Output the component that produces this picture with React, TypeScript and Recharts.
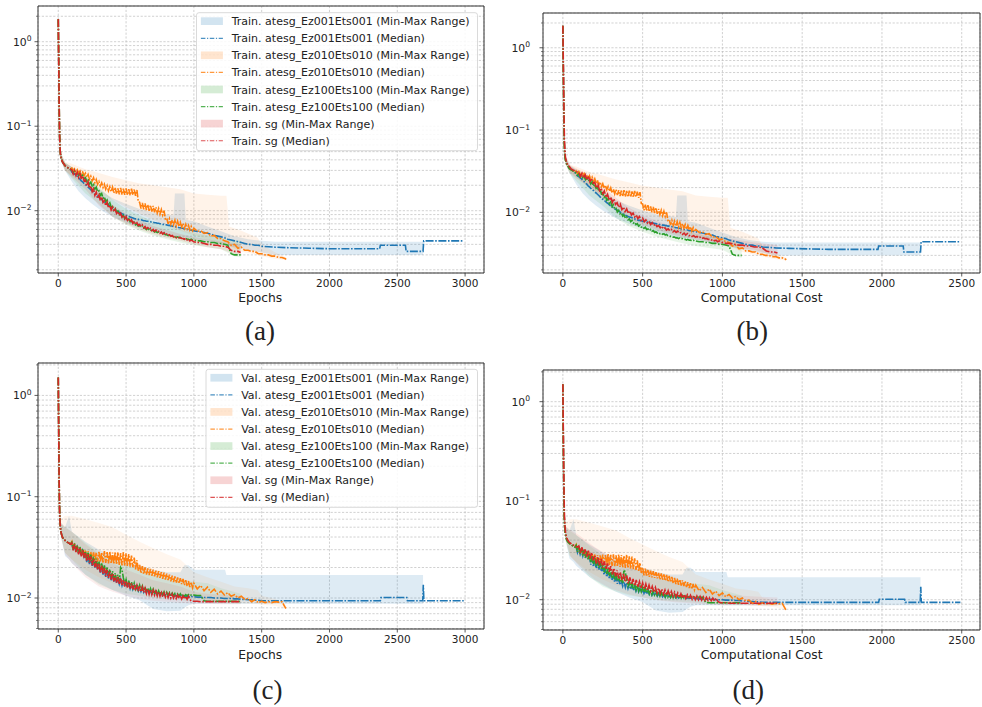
import React from 'react';
import { ComposedChart, Line, Area, XAxis, YAxis, CartesianGrid, ReferenceArea } from 'recharts';

const FONT = '"DejaVu Sans", sans-serif';
const BLUE = '#1f77b4';
const ORANGE = '#ff7f0e';
const GREEN = '#2ca02c';
const RED = '#d62728';

// cost per epoch (computational cost axis)
const ATESG_COST_PER_EPOCH = 0.8333;
const SG_COST_PER_EPOCH = 1.0;

const EARLY_EPOCHS = [0, 2, 4, 6, 8, 10, 13, 16, 20, 25, 30, 40, 50, 60, 75, 90];
const MAIN_EPOCHS = [
  100, 110, 120, 130, 140, 150, 160, 170, 180, 190,
  200, 210, 220, 230, 240, 250, 260, 270, 280, 290,
  300, 310, 320, 330, 340, 350, 360, 370, 380, 390,
  400, 410, 420, 430, 440, 450, 460, 470, 480, 490,
  500, 510, 520, 530, 540, 550, 560, 570, 580, 590,
  600, 610, 620, 630, 640, 650, 660, 670, 680, 690,
  700, 710, 720, 730, 740, 750, 760, 770, 780, 790,
  800, 810, 820, 830, 840, 850, 860, 870, 880, 890,
  900, 910, 920, 930, 940, 950, 960, 970, 980, 990,
  1000, 1025, 1050, 1075, 1100, 1125, 1150, 1175, 1200, 1225, 1250, 1275, 1300, 1325,
  1350, 1375, 1400, 1425, 1450, 1475, 1500, 1525, 1550, 1575, 1600, 1625, 1650, 1675,
];

const TRAIN_EARLY = [1.85, 0.9, 0.45, 0.22, 0.12, 0.075, 0.055, 0.047, 0.043, 0.04, 0.038, 0.036, 0.034, 0.033, 0.032, 0.031];
const VAL_EARLY = [1.5, 0.7, 0.33, 0.17, 0.1, 0.07, 0.056, 0.049, 0.045, 0.042, 0.04, 0.038, 0.037, 0.036, 0.035, 0.034];

// ---------- Training medians ----------
const trainBlueMain = [
  0.0288, 0.0278, 0.0272, 0.0262, 0.0256, 0.0242, 0.0236, 0.0226, 0.022, 0.021,
  0.0204, 0.0196, 0.019, 0.0184, 0.0176, 0.0172, 0.0166, 0.016, 0.0154, 0.0148,
  0.0144, 0.014, 0.0136, 0.0131, 0.0128, 0.0123, 0.012, 0.0117, 0.0114, 0.011,
  0.0108, 0.0106, 0.0103, 0.0101, 0.0098, 0.0096, 0.0094, 0.0092, 0.0091, 0.0089,
  0.0088, 0.0087, 0.0086, 0.0084, 0.0083, 0.0082, 0.0081, 0.008, 0.008, 0.0079,
  0.0078, 0.0078, 0.0077, 0.0076, 0.0076, 0.0075, 0.0075, 0.0074, 0.0074, 0.0073,
  0.0073, 0.0072, 0.0072, 0.0071, 0.0071, 0.007, 0.007, 0.0069, 0.0069, 0.0068,
  0.0068, 0.0067, 0.0067, 0.0066, 0.0066, 0.0065, 0.0065, 0.0064, 0.0064, 0.0063,
  0.0063, 0.0062, 0.0062, 0.0061, 0.0061, 0.006, 0.006, 0.0059, 0.0059, 0.0058,
  0.0058, 0.0057, 0.0056, 0.0055, 0.0054, 0.0053, 0.0051, 0.005, 0.0049, 0.0048, 0.0046, 0.0045, 0.0044, 0.0043,
  0.0042, 0.0041, 0.004, 0.004, 0.0039, 0.0039, 0.0038,
];
const trainBlueTailEpochs = [1600, 1700, 1850, 2000, 2200, 2370, 2375, 2560, 2565, 2690, 2695, 2990];
const trainBlueTailValues = [0.0037, 0.00365, 0.0036, 0.00355, 0.00355, 0.00355, 0.0039, 0.0039, 0.0033, 0.0033, 0.0044, 0.0044];

const trainOrangeMain = [
  0.032, 0.0296, 0.0312, 0.0288, 0.0305, 0.028, 0.0296, 0.0268, 0.0286, 0.026,
  0.0278, 0.0248, 0.0268, 0.0236, 0.0256, 0.0226, 0.0246, 0.0214, 0.0234, 0.0205,
  0.0222, 0.0196, 0.0214, 0.0188, 0.0206, 0.018, 0.0198, 0.0172, 0.0192, 0.0168,
  0.019, 0.0162, 0.0186, 0.0158, 0.0184, 0.0156, 0.0186, 0.0155, 0.0182, 0.0154,
  0.0184, 0.0153, 0.018, 0.0152, 0.0182, 0.0154, 0.0178, 0.015, 0.0176, 0.0128,
  0.0126, 0.0106, 0.0124, 0.0104, 0.0122, 0.0102, 0.0118, 0.01, 0.0116, 0.0098,
  0.0114, 0.0096, 0.011, 0.0094, 0.0106, 0.0091, 0.0103, 0.0089, 0.01, 0.008,
  0.0082, 0.007, 0.008, 0.0069, 0.0078, 0.0068, 0.0077, 0.0066, 0.0075, 0.0065,
  0.0073, 0.0064, 0.0071, 0.0062, 0.0069, 0.0061, 0.0067, 0.0059, 0.0065, 0.0058,
  0.0062, 0.0057, 0.0058, 0.0054, 0.0055, 0.005, 0.0051, 0.0047, 0.0047, 0.0044, 0.0043, 0.0039, 0.004, 0.0036,
  0.0037, 0.0034, 0.0034, 0.0033, 0.0033, 0.0031, 0.0031, 0.003, 0.003, 0.0029, 0.0029, 0.0028, 0.0028, 0.0027,
];
const trainOrangeTailEpochs = [1680];
const trainOrangeTailValues = [0.00265];

const trainGreenMain = [
  0.03, 0.0282, 0.0294, 0.027, 0.0281, 0.0262, 0.0274, 0.025, 0.0262, 0.024,
  0.0246, 0.0222, 0.0236, 0.0208, 0.0218, 0.0196, 0.0204, 0.018, 0.019, 0.0168,
  0.0172, 0.0152, 0.016, 0.014, 0.0146, 0.0128, 0.0134, 0.0118, 0.0124, 0.011,
  0.0112, 0.0101, 0.0106, 0.0096, 0.0099, 0.009, 0.0093, 0.0085, 0.0088, 0.0081,
  0.0083, 0.0077, 0.008, 0.0074, 0.0076, 0.0071, 0.0073, 0.0068, 0.007, 0.0066,
  0.0067, 0.0064, 0.0066, 0.0062, 0.0063, 0.006, 0.0062, 0.0059, 0.006, 0.0057,
  0.0058, 0.0056, 0.0057, 0.0055, 0.0056, 0.0054, 0.0055, 0.0053, 0.0054, 0.0052,
  0.0052, 0.0051, 0.0051, 0.005, 0.005, 0.0049, 0.0049, 0.0048, 0.0049, 0.0048,
  0.0048, 0.0047, 0.0047, 0.0046, 0.0047, 0.0046, 0.0046, 0.0045, 0.0046, 0.0045,
  0.0045, 0.0044, 0.0044, 0.0043, 0.0043, 0.0042, 0.0042, 0.0041, 0.0041, 0.004, 0.0039, 0.0031, 0.003, 0.003,
];
const trainGreenTailEpochs = [1345];
const trainGreenTailValues = [0.003];

const trainRedMain = [
  0.0305, 0.0272, 0.0298, 0.0262, 0.0285, 0.0248, 0.0276, 0.0236, 0.0258, 0.0226,
  0.0232, 0.0198, 0.0218, 0.0184, 0.0196, 0.0168, 0.0182, 0.0152, 0.0166, 0.014,
  0.0153, 0.0132, 0.0146, 0.0125, 0.0131, 0.0115, 0.0126, 0.0108, 0.0116, 0.0102,
  0.011, 0.0097, 0.0104, 0.0093, 0.0098, 0.0088, 0.0093, 0.0084, 0.0089, 0.008,
  0.0085, 0.0077, 0.0081, 0.0074, 0.0078, 0.0071, 0.0075, 0.0069, 0.0072, 0.0067,
  0.0069, 0.0065, 0.0068, 0.0063, 0.0065, 0.0061, 0.0063, 0.006, 0.0062, 0.0058,
  0.006, 0.0057, 0.0059, 0.0056, 0.0057, 0.0054, 0.0056, 0.0053, 0.0055, 0.0052,
  0.0053, 0.0051, 0.0052, 0.005, 0.0051, 0.0049, 0.005, 0.0048, 0.0049, 0.0048,
  0.0048, 0.0047, 0.0047, 0.0046, 0.0047, 0.0045, 0.0046, 0.0044, 0.0045, 0.0044,
  0.0043, 0.0042, 0.0042, 0.0041, 0.004, 0.004, 0.0039, 0.0039, 0.0038, 0.0038, 0.0037, 0.0034, 0.0033, 0.0033,
];
const trainRedTailEpochs = [1345];
const trainRedTailValues = [0.0032];

// ---------- Training min-max ranges ----------
const trainBlueRangeEpochs = [0, 10, 20, 50, 100, 150, 200, 250, 300, 400, 500, 600, 700, 800, 850, 860, 930, 940, 1000, 1100, 1200, 1300, 1400, 1500, 1600, 2000, 2400, 2690];
const trainBlueLo = [1.75, 0.065, 0.039, 0.03, 0.022, 0.017, 0.014, 0.012, 0.0105, 0.0085, 0.0072, 0.0063, 0.0057, 0.0052, 0.005, 0.005, 0.0048, 0.0048, 0.0046, 0.0043, 0.004, 0.0037, 0.0034, 0.0032, 0.003, 0.003, 0.003, 0.003];
const trainBlueHi = [1.95, 0.09, 0.048, 0.037, 0.033, 0.029, 0.025, 0.021, 0.018, 0.014, 0.012, 0.0105, 0.0095, 0.009, 0.0088, 0.016, 0.016, 0.0078, 0.0075, 0.0065, 0.0057, 0.005, 0.0046, 0.0044, 0.0043, 0.0043, 0.0043, 0.0043];

const trainOrangeRangeEpochs = [0, 10, 20, 50, 100, 200, 300, 400, 500, 600, 700, 800, 900, 1000, 1100, 1200, 1240, 1260, 1350, 1470, 1500, 1600, 1680];
const trainOrangeLo = [1.75, 0.065, 0.039, 0.03, 0.026, 0.02, 0.016, 0.0135, 0.011, 0.0092, 0.0078, 0.0066, 0.0058, 0.0051, 0.0046, 0.0041, 0.0039, 0.0038, 0.0033, 0.003, 0.0029, 0.0027, 0.0026];
const trainOrangeHi = [1.95, 0.09, 0.048, 0.038, 0.036, 0.031, 0.028, 0.025, 0.023, 0.021, 0.02, 0.019, 0.018, 0.016, 0.0155, 0.015, 0.015, 0.0065, 0.0058, 0.0048, 0.004, 0.0032, 0.0028];

const trainGreenRangeEpochs = [0, 10, 20, 50, 100, 200, 300, 400, 500, 600, 700, 800, 900, 1000, 1100, 1200, 1300, 1345];
const trainGreenLo = [1.75, 0.065, 0.039, 0.03, 0.024, 0.016, 0.012, 0.0085, 0.0068, 0.0058, 0.0051, 0.0046, 0.0042, 0.0039, 0.0037, 0.0035, 0.0029, 0.0028];
const trainGreenHi = [1.95, 0.09, 0.048, 0.037, 0.033, 0.027, 0.019, 0.0135, 0.0105, 0.0088, 0.0075, 0.0066, 0.006, 0.0055, 0.0051, 0.0048, 0.0045, 0.0044];

const trainRedRangeEpochs = [0, 10, 20, 50, 100, 200, 300, 400, 500, 600, 700, 800, 900, 1000, 1100, 1200, 1300, 1345];
const trainRedLo = [1.75, 0.065, 0.039, 0.03, 0.025, 0.018, 0.0115, 0.0085, 0.007, 0.006, 0.0053, 0.0048, 0.0044, 0.004, 0.0037, 0.0035, 0.0031, 0.003];
const trainRedHi = [1.95, 0.09, 0.048, 0.037, 0.033, 0.026, 0.017, 0.0118, 0.0092, 0.0077, 0.0066, 0.0059, 0.0053, 0.0049, 0.0046, 0.0043, 0.0041, 0.004];

// ---------- Validation medians ----------
const valBlueMain = [
  0.034, 0.03, 0.033, 0.0288, 0.0318, 0.0276, 0.0306, 0.0264, 0.0292, 0.0254,
  0.0272, 0.0226, 0.026, 0.0216, 0.0248, 0.0208, 0.0236, 0.02, 0.0226, 0.0192,
  0.0212, 0.0178, 0.0202, 0.017, 0.0192, 0.0162, 0.0184, 0.0156, 0.0176, 0.015,
  0.0168, 0.0145, 0.0162, 0.0141, 0.0157, 0.0137, 0.0152, 0.0133, 0.0148, 0.013,
  0.0144, 0.0127, 0.014, 0.0124, 0.0136, 0.0122, 0.0133, 0.012, 0.013, 0.0118,
  0.0128, 0.0116, 0.0125, 0.0114, 0.0123, 0.0113, 0.0121, 0.0111, 0.0119, 0.011,
  0.0117, 0.0109, 0.0116, 0.0108, 0.0114, 0.0107, 0.0113, 0.0106, 0.0112, 0.0106,
  0.0111, 0.0105, 0.011, 0.0105, 0.0109, 0.0104, 0.0108, 0.0104, 0.0107, 0.0104,
  0.0106, 0.0104, 0.0106, 0.0103, 0.0105, 0.0103, 0.0104, 0.0103, 0.0104, 0.0103,
  0.0103, 0.0102, 0.0102, 0.0101, 0.0101, 0.0101, 0.01, 0.01, 0.01, 0.0099, 0.0099, 0.0099, 0.0098, 0.0098,
  0.0097, 0.0097, 0.0096, 0.0096, 0.0095, 0.0095, 0.0094,
];
const valBlueTailEpochs = [1600, 2000, 2375, 2380, 2570, 2575, 2688, 2692, 2696, 2990];
const valBlueTailValues = [0.0094, 0.0094, 0.0094, 0.0101, 0.0101, 0.0094, 0.0094, 0.0135, 0.0094, 0.0094];

const valOrangeMain = [
  0.036, 0.0305, 0.0345, 0.029, 0.033, 0.028, 0.0318, 0.027, 0.0305, 0.0262,
  0.0298, 0.025, 0.029, 0.0242, 0.0286, 0.0236, 0.0282, 0.0232, 0.028, 0.0228,
  0.0285, 0.0226, 0.0282, 0.0224, 0.029, 0.0222, 0.0284, 0.022, 0.0288, 0.0218,
  0.028, 0.0216, 0.0286, 0.0214, 0.0282, 0.0212, 0.0278, 0.021, 0.0284, 0.0208,
  0.0276, 0.0206, 0.0272, 0.0204, 0.0262, 0.02, 0.025, 0.0192, 0.0236, 0.0186,
  0.0212, 0.0176, 0.0206, 0.0172, 0.02, 0.017, 0.0196, 0.0168, 0.0194, 0.0166,
  0.019, 0.0164, 0.0186, 0.016, 0.0184, 0.0158, 0.018, 0.0155, 0.0178, 0.0152,
  0.0174, 0.015, 0.017, 0.0146, 0.0166, 0.0144, 0.0163, 0.0141, 0.016, 0.0139,
  0.0157, 0.0137, 0.0154, 0.0134, 0.015, 0.0131, 0.0147, 0.0128, 0.0144, 0.0126,
  0.014, 0.0123, 0.0133, 0.0118, 0.0128, 0.0114, 0.0122, 0.011, 0.0117, 0.0107, 0.0113, 0.0104, 0.0108, 0.01,
  0.0104, 0.0097, 0.0099, 0.0092, 0.0096, 0.009, 0.0093, 0.009, 0.0092, 0.009, 0.0092, 0.0091, 0.0092, 0.008,
];
const valOrangeTailEpochs = [1680];
const valOrangeTailValues = [0.0079];

const valGreenMain = [
  0.0355, 0.0302, 0.0345, 0.029, 0.0332, 0.0278, 0.032, 0.0266, 0.0306, 0.0256,
  0.029, 0.024, 0.028, 0.023, 0.0268, 0.022, 0.0256, 0.021, 0.0244, 0.02,
  0.023, 0.019, 0.022, 0.0182, 0.021, 0.0174, 0.02, 0.0166, 0.0192, 0.016,
  0.0184, 0.0154, 0.0176, 0.015, 0.017, 0.0146, 0.02, 0.019, 0.0158, 0.0138,
  0.0152, 0.0132, 0.0148, 0.0128, 0.0144, 0.0126, 0.014, 0.0123, 0.0137, 0.0121,
  0.0134, 0.0119, 0.0131, 0.0117, 0.0128, 0.0115, 0.0126, 0.0113, 0.0124, 0.0112,
  0.0122, 0.0111, 0.012, 0.0109, 0.0118, 0.0108, 0.0116, 0.0107, 0.0115, 0.0106,
  0.0114, 0.0106, 0.0113, 0.0105, 0.0112, 0.0105, 0.0111, 0.0104, 0.011, 0.0104,
  0.011, 0.0104, 0.0109, 0.0104, 0.0108, 0.0105, 0.0108, 0.0105, 0.0107, 0.0106,
  0.0107, 0.0106, 0.0106, 0.0094, 0.0093, 0.0093, 0.0093, 0.0093, 0.0093, 0.0093, 0.0093, 0.0093, 0.0093, 0.0093,
];
const valGreenTailEpochs = [1345];
const valGreenTailValues = [0.0092];

const valRedMain = [
  0.035, 0.0296, 0.0338, 0.0284, 0.0322, 0.027, 0.0312, 0.0258, 0.03, 0.025,
  0.0282, 0.0232, 0.027, 0.0222, 0.0258, 0.021, 0.0244, 0.0202, 0.0232, 0.0192,
  0.0218, 0.018, 0.0208, 0.0172, 0.0198, 0.0164, 0.019, 0.0158, 0.0182, 0.0152,
  0.0176, 0.0146, 0.0168, 0.0142, 0.0162, 0.0138, 0.0158, 0.0134, 0.0152, 0.013,
  0.0148, 0.0127, 0.0144, 0.0124, 0.014, 0.0122, 0.0136, 0.0119, 0.0133, 0.0117,
  0.0131, 0.0115, 0.0128, 0.0113, 0.0125, 0.0111, 0.0123, 0.0109, 0.0121, 0.0108,
  0.0119, 0.0107, 0.0117, 0.0105, 0.0115, 0.0104, 0.0113, 0.0103, 0.0112, 0.0102,
  0.0111, 0.0101, 0.011, 0.01, 0.0109, 0.01, 0.0108, 0.0099, 0.0107, 0.0099,
  0.0106, 0.0098, 0.0105, 0.0098, 0.0104, 0.0097, 0.0104, 0.0097, 0.0094, 0.0093,
  0.0093, 0.0093, 0.0092, 0.0092, 0.0092, 0.0092, 0.0092, 0.0092, 0.0092, 0.0092, 0.0092, 0.0092, 0.0092, 0.0092,
];
const valRedTailEpochs = [1345];
const valRedTailValues = [0.0092];

// ---------- Validation min-max ranges ----------
const valBlueRangeEpochs = [0, 10, 20, 50, 80, 100, 200, 300, 400, 500, 600, 700, 800, 900, 930, 960, 1000, 1230, 1240, 2690];
const valBlueLo = [1.4, 0.06, 0.04, 0.026, 0.024, 0.022, 0.017, 0.014, 0.012, 0.0105, 0.0095, 0.0078, 0.0074, 0.0075, 0.008, 0.0085, 0.0088, 0.0088, 0.0088, 0.0088];
const valBlueHi = [1.6, 0.085, 0.055, 0.05, 0.065, 0.045, 0.036, 0.03, 0.026, 0.023, 0.021, 0.019, 0.018, 0.018, 0.021, 0.021, 0.019, 0.019, 0.0169, 0.0169];

const valOrangeRangeEpochs = [0, 10, 20, 50, 100, 200, 300, 400, 500, 600, 700, 800, 900, 1000, 1100, 1200, 1300, 1400, 1470, 1500, 1600, 1680];
const valOrangeLo = [1.4, 0.06, 0.04, 0.028, 0.024, 0.019, 0.016, 0.014, 0.013, 0.0122, 0.0115, 0.011, 0.0105, 0.01, 0.0095, 0.0092, 0.009, 0.0088, 0.0087, 0.0086, 0.0084, 0.0078];
const valOrangeHi = [1.6, 0.085, 0.06, 0.065, 0.065, 0.06, 0.055, 0.05, 0.042, 0.036, 0.031, 0.027, 0.024, 0.018, 0.016, 0.0145, 0.013, 0.0125, 0.012, 0.0105, 0.0098, 0.0085];

const valGreenRangeEpochs = [0, 10, 20, 50, 100, 200, 300, 400, 500, 600, 700, 800, 900, 1000, 1100, 1200, 1345];
const valGreenLo = [1.4, 0.06, 0.04, 0.028, 0.024, 0.017, 0.0135, 0.012, 0.011, 0.0105, 0.01, 0.0097, 0.0095, 0.0093, 0.0091, 0.009, 0.0088];
const valGreenHi = [1.6, 0.085, 0.055, 0.05, 0.045, 0.035, 0.028, 0.024, 0.021, 0.019, 0.017, 0.016, 0.015, 0.0145, 0.014, 0.0125, 0.011];

const valRedRangeEpochs = [0, 10, 20, 50, 100, 200, 300, 400, 500, 600, 700, 800, 900, 1000, 1100, 1200, 1345];
const valRedLo = [1.4, 0.06, 0.04, 0.027, 0.022, 0.016, 0.013, 0.0115, 0.0105, 0.0098, 0.0094, 0.0092, 0.009, 0.0088, 0.0088, 0.0087, 0.0087];
const valRedHi = [1.6, 0.085, 0.055, 0.05, 0.045, 0.034, 0.027, 0.022, 0.019, 0.017, 0.015, 0.014, 0.013, 0.0115, 0.011, 0.0108, 0.0105];

// ---------- Axis ticks ----------
const EPOCH_TICKS = [0, 500, 1000, 1500, 2000, 2500, 3000];
const COST_TICKS = [0, 500, 1000, 1500, 2000, 2500];
const TRAIN_Y_TICKS = [
  0.002, 0.003, 0.004, 0.005, 0.006, 0.007, 0.008, 0.009,
  0.01, 0.02, 0.03, 0.04, 0.05, 0.06, 0.07, 0.08, 0.09,
  0.1, 0.2, 0.3, 0.4, 0.5, 0.6, 0.7, 0.8, 0.9, 1, 2,
];
const VAL_Y_TICKS = [
  0.005, 0.006, 0.007, 0.008, 0.009,
  0.01, 0.02, 0.03, 0.04, 0.05, 0.06, 0.07, 0.08, 0.09,
  0.1, 0.2, 0.3, 0.4, 0.5, 0.6, 0.7, 0.8, 0.9, 1, 2,
];

const RUN_NAMES = ['atesg_Ez001Ets001', 'atesg_Ez010Ets010', 'atesg_Ez100Ets100', 'sg'];

type Series = {
  id: string; name: string; color: string; cost: number; rangeOpacity: number;
  early: number[]; main: number[]; tailEpochs: number[]; tailValues: number[];
  rangeEpochs: number[]; rangeLo: number[]; rangeHi: number[];
};

const TRAIN_SERIES: Series[] = [
  { id: 'blue', name: RUN_NAMES[0], color: BLUE, cost: ATESG_COST_PER_EPOCH, rangeOpacity: 0.15, early: TRAIN_EARLY, main: trainBlueMain, tailEpochs: trainBlueTailEpochs, tailValues: trainBlueTailValues, rangeEpochs: trainBlueRangeEpochs, rangeLo: trainBlueLo, rangeHi: trainBlueHi },
  { id: 'orange', name: RUN_NAMES[1], color: ORANGE, cost: ATESG_COST_PER_EPOCH, rangeOpacity: 0.09, early: TRAIN_EARLY, main: trainOrangeMain, tailEpochs: trainOrangeTailEpochs, tailValues: trainOrangeTailValues, rangeEpochs: trainOrangeRangeEpochs, rangeLo: trainOrangeLo, rangeHi: trainOrangeHi },
  { id: 'green', name: RUN_NAMES[2], color: GREEN, cost: ATESG_COST_PER_EPOCH, rangeOpacity: 0.11, early: TRAIN_EARLY, main: trainGreenMain, tailEpochs: trainGreenTailEpochs, tailValues: trainGreenTailValues, rangeEpochs: trainGreenRangeEpochs, rangeLo: trainGreenLo, rangeHi: trainGreenHi },
  { id: 'red', name: RUN_NAMES[3], color: RED, cost: SG_COST_PER_EPOCH, rangeOpacity: 0.11, early: TRAIN_EARLY, main: trainRedMain, tailEpochs: trainRedTailEpochs, tailValues: trainRedTailValues, rangeEpochs: trainRedRangeEpochs, rangeLo: trainRedLo, rangeHi: trainRedHi },
];

const VAL_SERIES: Series[] = [
  { id: 'blue', name: RUN_NAMES[0], color: BLUE, cost: ATESG_COST_PER_EPOCH, rangeOpacity: 0.15, early: VAL_EARLY, main: valBlueMain, tailEpochs: valBlueTailEpochs, tailValues: valBlueTailValues, rangeEpochs: valBlueRangeEpochs, rangeLo: valBlueLo, rangeHi: valBlueHi },
  { id: 'orange', name: RUN_NAMES[1], color: ORANGE, cost: ATESG_COST_PER_EPOCH, rangeOpacity: 0.07, early: VAL_EARLY, main: valOrangeMain, tailEpochs: valOrangeTailEpochs, tailValues: valOrangeTailValues, rangeEpochs: valOrangeRangeEpochs, rangeLo: valOrangeLo, rangeHi: valOrangeHi },
  { id: 'green', name: RUN_NAMES[2], color: GREEN, cost: ATESG_COST_PER_EPOCH, rangeOpacity: 0.08, early: VAL_EARLY, main: valGreenMain, tailEpochs: valGreenTailEpochs, tailValues: valGreenTailValues, rangeEpochs: valGreenRangeEpochs, rangeLo: valGreenLo, rangeHi: valGreenHi },
  { id: 'red', name: RUN_NAMES[3], color: RED, cost: SG_COST_PER_EPOCH, rangeOpacity: 0.08, early: VAL_EARLY, main: valRedMain, tailEpochs: valRedTailEpochs, tailValues: valRedTailValues, rangeEpochs: valRedRangeEpochs, rangeLo: valRedLo, rangeHi: valRedHi },
];

function buildRows(series: Series[], useCost: boolean) {
  const map = new Map<number, any>();
  const get = (x: number) => {
    const k = Math.round(x * 1000) / 1000;
    let r = map.get(k);
    if (!r) { r = { x: k }; map.set(k, r); }
    return r;
  };
  series.forEach((s) => {
    const f = useCost ? s.cost : 1;
    const eps = [...EARLY_EPOCHS, ...MAIN_EPOCHS.slice(0, s.main.length), ...s.tailEpochs];
    const vals = [...s.early, ...s.main, ...s.tailValues];
    eps.forEach((e, i) => { get(e * f)[s.id + '_med'] = vals[i]; });
    s.rangeEpochs.forEach((e, i) => { get(e * f)[s.id + '_rng'] = [s.rangeLo[i], s.rangeHi[i]]; });
  });
  return Array.from(map.values()).sort((a, b) => a.x - b.x);
}

const DASH = '8 1.6 1.6 1.6';

function XTick(props: any) {
  const { x, y, payload } = props;
  return (
    <g>
      <line x1={x} x2={x} y1={y} y2={y + 3.5} stroke="#333" strokeWidth={0.8} />
      <text x={x} y={y + 13.6} textAnchor="middle" fontSize={10.5} fontFamily={FONT} fill="#222">{payload.value}</text>
    </g>
  );
}

function YTick(props: any) {
  const { x, y, payload, gap } = props;
  const v = payload.value;
  const lg = Math.log10(v);
  const exp = Math.round(lg);
  const major = Math.abs(lg - exp) < 1e-9;
  return (
    <g>
      <line x1={x} x2={x - (major ? 3.5 : 2)} y1={y} y2={y} stroke="#333" strokeWidth={major ? 0.8 : 0.6} />
      {major && (
        <text x={x - gap} y={y + 4} textAnchor="end" fontSize={10.8} fontFamily={FONT} fill="#222">
          10<tspan dy={-4.5} fontSize={7.6}>{exp === 0 ? '0' : '\u2212' + String(-exp)}</tspan>
        </text>
      )}
    </g>
  );
}

type PanelCfg = {
  left: number; top: number; width: number; height: number;
  margin: { top: number; right: number; left: number; bottom: number };
  yAxisWidth: number; xAxisHeight: number; xDomain: [number, number]; xTicks: number[];
  yDomain: [number, number]; yTicks: number[]; series: Series[]; useCost: boolean; labelGap: number;
};

function Panel({ cfg }: { cfg: PanelCfg }) {
  const rows = buildRows(cfg.series, cfg.useCost);
  return (
    <div style={{ position: 'absolute', left: cfg.left, top: cfg.top, width: cfg.width, height: cfg.height }}>
      <ComposedChart width={cfg.width} height={cfg.height} data={rows} margin={cfg.margin}>
        <CartesianGrid stroke="#bdbdbd" strokeDasharray="2.2 1.6" strokeWidth={0.7} />
        <XAxis type="number" dataKey="x" domain={cfg.xDomain} allowDataOverflow ticks={cfg.xTicks} interval={0}
          tick={(p: any) => <XTick {...p} />} tickLine={false} axisLine={false} tickSize={0} tickMargin={0} height={cfg.xAxisHeight} />
        <YAxis type="number" scale="log" domain={cfg.yDomain} allowDataOverflow ticks={cfg.yTicks} interval={0}
          tick={(p: any) => <YTick {...p} gap={cfg.labelGap} />} tickLine={false} axisLine={false} tickSize={0} tickMargin={0} width={cfg.yAxisWidth} />
        {cfg.series.map((s) => (
          <Area key={s.id + 'r'} type="linear" dataKey={s.id + '_rng'} stroke="none" fill={s.color} fillOpacity={s.rangeOpacity}
            connectNulls dot={false} activeDot={false} isAnimationActive={false} />
        ))}
        {cfg.series.map((s) => (
          <Line key={s.id + 'm'} type="linear" dataKey={s.id + '_med'} stroke={s.color} strokeWidth={1.6} strokeDasharray={DASH}
            connectNulls dot={false} activeDot={false} isAnimationActive={false} />
        ))}
        <ReferenceArea x1={cfg.xDomain[0]} x2={cfg.xDomain[1]} y1={cfg.yDomain[0]} y2={cfg.yDomain[1]}
          fill="none" fillOpacity={0} stroke="#333" strokeWidth={1} ifOverflow="visible" />
      </ComposedChart>
    </div>
  );
}

const TRAIN_Y_DOMAIN: [number, number] = [Math.pow(10, -2.737), Math.pow(10, 0.4225)];
const VAL_Y_DOMAIN: [number, number] = [Math.pow(10, -2.306), Math.pow(10, 0.32)];

const PANELS: PanelCfg[] = [
  { left: 0, top: 0, width: 490, height: 300, margin: { top: 6, right: 6, left: 0, bottom: 0 }, yAxisWidth: 38, xAxisHeight: 27,
    xDomain: [-149.5, 3139.5], xTicks: EPOCH_TICKS, yDomain: TRAIN_Y_DOMAIN, yTicks: TRAIN_Y_TICKS, series: TRAIN_SERIES, useCost: false, labelGap: 6.5 },
  { left: 490, top: 0, width: 492, height: 300, margin: { top: 13, right: 2, left: 0, bottom: 0 }, yAxisWidth: 53, xAxisHeight: 27,
    xDomain: [-124.5, 2614.5], xTicks: COST_TICKS, yDomain: TRAIN_Y_DOMAIN, yTicks: TRAIN_Y_TICKS, series: TRAIN_SERIES, useCost: true, labelGap: 13 },
  { left: 0, top: 350, width: 490, height: 300, margin: { top: 13, right: 6, left: 0, bottom: 0 }, yAxisWidth: 38, xAxisHeight: 21,
    xDomain: [-149.5, 3139.5], xTicks: EPOCH_TICKS, yDomain: VAL_Y_DOMAIN, yTicks: VAL_Y_TICKS, series: VAL_SERIES, useCost: false, labelGap: 6.5 },
  { left: 490, top: 350, width: 492, height: 300, margin: { top: 20, right: 2, left: 0, bottom: 0 }, yAxisWidth: 53, xAxisHeight: 20,
    xDomain: [-124.5, 2614.5], xTicks: COST_TICKS, yDomain: VAL_Y_DOMAIN, yTicks: VAL_Y_TICKS, series: VAL_SERIES, useCost: true, labelGap: 13 },
];

function LegendBox({ x, y, prefix, series }: { x: number; y: number; prefix: string; series: Series[] }) {
  const right = 477.5;
  const rowH = 17.08;
  const items: { kind: 'patch' | 'line'; color: string; label: string }[] = [];
  series.forEach((s) => {
    items.push({ kind: 'patch', color: s.color, label: `${prefix} ${s.name} (Min-Max Range)` });
    items.push({ kind: 'line', color: s.color, label: `${prefix} ${s.name} (Median)` });
  });
  return (
    <g>
      <rect x={x} y={y} width={right - x} height={138} rx={2.5} fill="#ffffff" fillOpacity={0.85} stroke="#d0d0d0" strokeWidth={0.8} />
      {items.map((it, i) => {
        const cy = y + 8.5 + rowH * i;
        return (
          <g key={i}>
            {it.kind === 'patch' ? (
              <rect x={x + 4.4} y={cy - 3.9} width={22} height={7.7} fill={it.color} fillOpacity={0.2} />
            ) : (
              <line x1={x + 4.4} x2={x + 26.4} y1={cy} y2={cy} stroke={it.color} strokeOpacity={0.8} strokeWidth={1.2} strokeDasharray="4.5 1.6 1.2 1.6" />
            )}
            <text x={x + 35.2} y={cy + 4} fontSize={11} fontFamily={FONT} fill="#222">{it.label}</text>
          </g>
        );
      })}
    </g>
  );
}

const X_LABELS = [
  { text: 'Epochs', x: 260.2, y: 301.6 },
  { text: 'Computational Cost', x: 761.7, y: 301.6 },
  { text: 'Epochs', x: 260.2, y: 658.8 },
  { text: 'Computational Cost', x: 761.7, y: 658.8 },
];
const CAPTIONS = [
  { text: '(a)', x: 260, y: 340.2 },
  { text: '(b)', x: 752.2, y: 340.2 },
  { text: '(c)', x: 267.5, y: 698.5 },
  { text: '(d)', x: 748.3, y: 698.5 },
];

export default function App() {
  return (
    <div style={{ position: 'absolute', left: 0, top: 0, width: 982, height: 707, background: '#ffffff', overflow: 'hidden' }}>
      {PANELS.map((p, i) => <Panel key={i} cfg={p} />)}
      <svg width={982} height={707} style={{ position: 'absolute', left: 0, top: 0, pointerEvents: 'none' }}>
        {X_LABELS.map((l, i) => (
          <text key={'xl' + i} x={l.x} y={l.y} textAnchor="middle" fontSize={12.3} fontFamily={FONT} fill="#222">{l.text}</text>
        ))}
        {CAPTIONS.map((c, i) => (
          <text key={'cap' + i} x={c.x} y={c.y} textAnchor="middle" fontSize={27} fontFamily='"Liberation Serif", serif' fill="#222">{c.text}</text>
        ))}
        <LegendBox x={196.5} y={12.7} prefix="Train." series={TRAIN_SERIES} />
        <LegendBox x={206} y={369.3} prefix="Val." series={VAL_SERIES} />
      </svg>
    </div>
  );
}
